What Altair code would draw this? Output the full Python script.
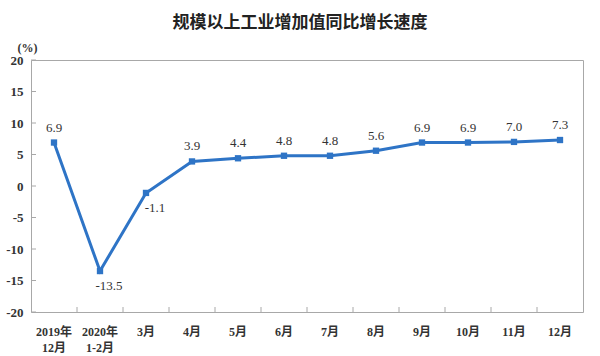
import altair as alt
import pandas as pd

# ---- data ----
months = ["2019年\n12月", "2020年\n1-2月", "3月", "4月", "5月", "6月",
          "7月", "8月", "9月", "10月", "11月", "12月"]
growth = [6.9, -13.5, -1.1, 3.9, 4.4, 4.8, 4.8, 5.6, 6.9, 6.9, 7.0, 7.3]
y_ticks = [-20, -15, -10, -5, 0, 5, 10, 15, 20]

df = pd.DataFrame({"month": months, "growth": growth})
tick_df = pd.DataFrame({"v": y_ticks})
month_df = pd.DataFrame({"month": months[1:]})

SERIF = "Liberation Serif, Noto Sans CJK SC"
BLUE = "#2E74C6"
TXT = "#333333"
FRAME = "#a8a8a8"

xscale = alt.Scale(type="band", paddingInner=0, paddingOuter=0)
yscale = alt.Scale(domain=[-20, 20], nice=False, zero=False)

x_axis = alt.Axis(
    title=None, domain=False, ticks=False, labelAngle=0,
    labelExpr="split(datum.value, '\\n')",
    labelFont=SERIF, labelFontSize=12, labelFontWeight="bold",
    labelColor=TXT, labelPadding=14, labelLineHeight=16,
)
y_axis = alt.Axis(
    values=y_ticks, domain=False, ticks=False, grid=False,
    labelOverlap=False, labelBound=False,
    labelExpr="replace(datum.label, '\u2212', '-')",
    labelFont=SERIF, labelFontSize=13, labelFontWeight="bold",
    labelColor=TXT, labelPadding=8,
    title="(%)", titleAngle=0, titleX=-4, titleY=-13,
    titleAlign="center", titleBaseline="middle",
    titleFont=SERIF, titleFontSize=12, titleFontWeight="bold", titleColor=TXT,
)


def X(bp=0.5):
    return alt.X("month:N", sort=months, scale=xscale, bandPosition=bp, axis=x_axis)


def Y(field="growth:Q"):
    return alt.Y(field, scale=yscale, axis=y_axis)


base = alt.Chart(df).transform_calculate(
    lbl="replace(format(datum.growth, '.1f'), '\u2212', '-')"
)

line = base.mark_line(color=BLUE, strokeWidth=3).encode(x=X(), y=Y())

pts = base.mark_square(color=BLUE, size=40, opacity=1).encode(x=X(), y=Y())

lab_up = base.transform_filter("datum.growth >= 0").mark_text(
    font=SERIF, fontSize=13, color=TXT, dy=-15, baseline="middle"
).encode(x=X(), y=Y(), text=alt.Text("lbl:N"))

lab_dn = base.transform_filter("datum.growth < 0").mark_text(
    font=SERIF, fontSize=13, color=TXT, dy=15, dx=9, baseline="middle"
).encode(x=X(), y=Y(), text=alt.Text("lbl:N"))

xticks = alt.Chart(month_df).mark_rule(color=FRAME, strokeWidth=1).encode(
    x=X(0), y=alt.value(252), y2=alt.value(247),
)

yticks = alt.Chart(tick_df).mark_rule(color=FRAME, strokeWidth=1).encode(
    y=Y("v:Q"), x=alt.value(0), x2=alt.value(5),
)

chart = alt.layer(line, xticks, yticks, pts, lab_up, lab_dn).properties(
    width=552, height=252,
    title=alt.TitleParams(
        "规模以上工业增加值同比增长速度",
        font="Noto Sans CJK SC", fontSize=17, fontWeight="bold",
        color="#222222", anchor="middle", dx=-7, offset=9,
    ),
    autosize=alt.AutoSizeParams(type="none"),
    padding={"left": 31, "top": 60, "right": 17, "bottom": 44},
    background="white",
).configure_view(
    stroke=FRAME, strokeWidth=1
)

chart.save("out.html", embed_options={"renderer": "svg", "actions": False})
